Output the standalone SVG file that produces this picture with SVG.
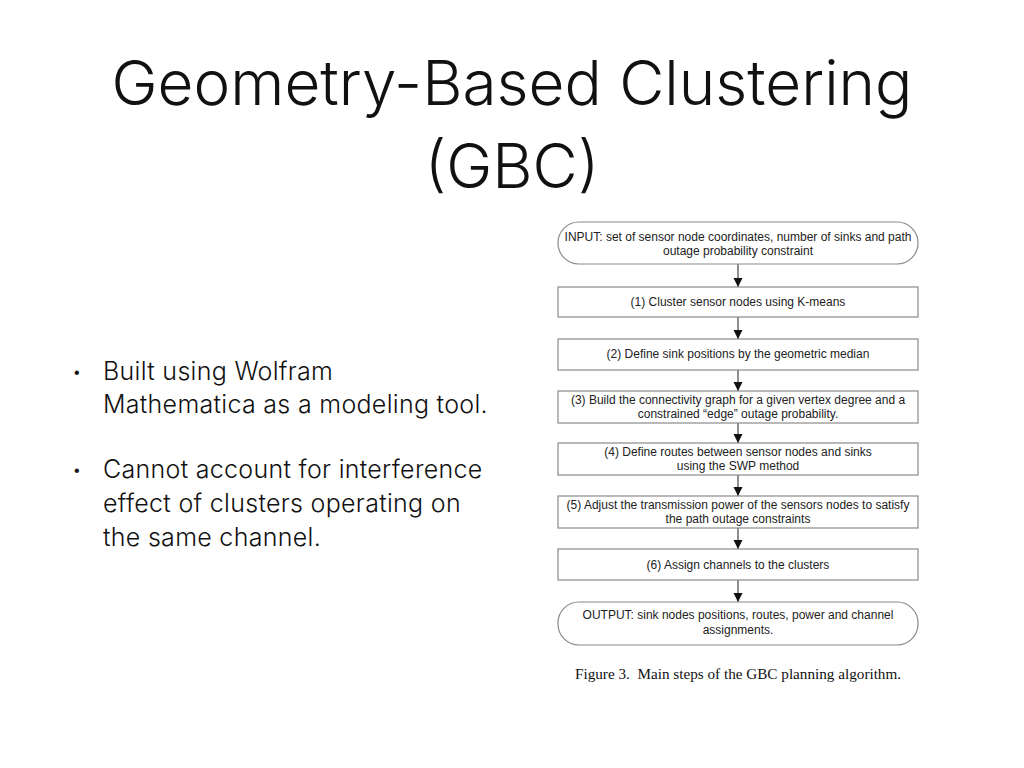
<svg xmlns="http://www.w3.org/2000/svg" width="1024" height="768" viewBox="0 0 1024 768">
<defs>
<marker id="arr" viewBox="0 0 10 10" refX="10" refY="5" markerWidth="9" markerHeight="10" markerUnits="userSpaceOnUse" orient="auto">
<path d="M0,0 L10,5 L0,10 Z" fill="#111"/>
</marker>
<style>
.title{font-family:Inter,"Open Sans","Liberation Sans",Arial,sans-serif;font-weight:300;font-size:62px;fill:#111;text-anchor:middle}
.bul{font-family:Inter,"Open Sans","Liberation Sans",Arial,sans-serif;font-weight:300;font-size:25px;letter-spacing:0.3px;fill:#111}
.dot{font-family:"Liberation Sans",Arial,sans-serif;font-size:16px;fill:#111}
.box{fill:#fff;stroke:#8a8a8a;stroke-width:1.2}
.bt{font-family:"Liberation Sans",Arial,sans-serif;font-size:12px;fill:#222;text-anchor:middle}
.cap{font-family:"Liberation Serif","Times New Roman",serif;font-size:15.2px;fill:#111}
.con{stroke:#444;stroke-width:1.2;fill:none}
</style>
</defs>
<rect width="1024" height="768" fill="#fff"/>
<text class="title" x="512" y="105">Geometry-Based Clustering</text>
<text class="title" x="512" y="188">(GBC)</text>
<g id="bullets">
<text class="dot" x="74" y="378">•</text>
<text class="bul" x="103" y="380">Built using Wolfram</text>
<text class="bul" x="103" y="413">Mathematica as a modeling tool.</text>
<text class="dot" x="74" y="476">•</text>
<text class="bul" x="103" y="478">Cannot account for interference</text>
<text class="bul" x="103" y="512">effect of clusters operating on</text>
<text class="bul" x="103" y="546">the same channel.</text>
</g>
<g id="connectors">
<line class="con" x1="738" y1="264" x2="738" y2="287" marker-end="url(#arr)"/>
<line class="con" x1="738" y1="317" x2="738" y2="339" marker-end="url(#arr)"/>
<line class="con" x1="738" y1="370" x2="738" y2="391" marker-end="url(#arr)"/>
<line class="con" x1="738" y1="423" x2="738" y2="443" marker-end="url(#arr)"/>
<line class="con" x1="738" y1="475" x2="738" y2="496" marker-end="url(#arr)"/>
<line class="con" x1="738" y1="528" x2="738" y2="549" marker-end="url(#arr)"/>
<line class="con" x1="738" y1="580" x2="738" y2="602" marker-end="url(#arr)"/>
</g>
<g id="input">
<rect class="box" x="558" y="222" width="360" height="42" rx="21" ry="21"/>
<text class="bt" x="738" y="241">INPUT: set of sensor node coordinates, number of sinks and path</text>
<text class="bt" x="738" y="255">outage probability constraint</text>
</g>
<g id="step1">
<rect class="box" x="558" y="287" width="360" height="30"/>
<text class="bt" x="738" y="306">(1) Cluster sensor nodes using K-means</text>
</g>
<g id="step2">
<rect class="box" x="558" y="339" width="360" height="31"/>
<text class="bt" x="738" y="358">(2) Define sink positions by the geometric median</text>
</g>
<g id="step3">
<rect class="box" x="558" y="391" width="360" height="32"/>
<text class="bt" x="738" y="404">(3) Build the connectivity graph for a given vertex degree and a</text>
<text class="bt" x="738" y="418">constrained “edge” outage probability.</text>
</g>
<g id="step4">
<rect class="box" x="558" y="443" width="360" height="32"/>
<text class="bt" x="738" y="456">(4) Define routes between sensor nodes and sinks</text>
<text class="bt" x="738" y="470">using the SWP method</text>
</g>
<g id="step5">
<rect class="box" x="558" y="496" width="360" height="32"/>
<text class="bt" x="738" y="509">(5) Adjust the transmission power of the sensors nodes to satisfy</text>
<text class="bt" x="738" y="523">the path outage constraints</text>
</g>
<g id="step6">
<rect class="box" x="558" y="549" width="360" height="31"/>
<text class="bt" x="738" y="569">(6) Assign channels to the clusters</text>
</g>
<g id="output">
<rect class="box" x="558" y="602" width="360" height="43" rx="21" ry="21"/>
<text class="bt" x="738" y="619">OUTPUT: sink nodes positions, routes, power and channel</text>
<text class="bt" x="738" y="634">assignments.</text>
</g>
<text class="cap" x="575" y="679" xml:space="preserve">Figure 3.  Main steps of the GBC planning algorithm.</text>
</svg>
